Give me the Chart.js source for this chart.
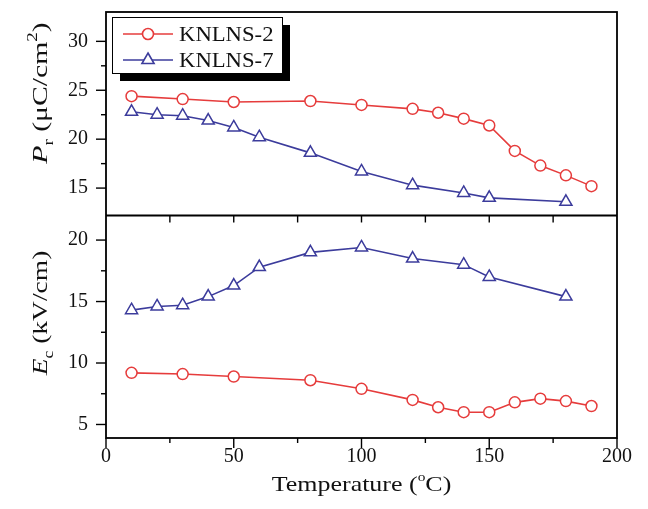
<!DOCTYPE html>
<html>
<head>
<meta charset="utf-8">
<script src="https://cdn.jsdelivr.net/npm/chart.js@4/dist/chart.umd.min.js"></script>
<style>
    html, body { margin: 0; padding: 0; background: #fff; }
    #wrap { width: 648px; height: 509px; }
</style>
</head>
<body>
<div id="wrap"><canvas id="chart"></canvas></div>
<script>
// Temperatures (°C) for each sample
const tempsA = [10, 30, 50, 80, 100, 120, 130, 140, 150, 160, 170, 180, 190]; // KNLNS-2
const tempsB = [10, 20, 30, 40, 50, 60, 80, 100, 120, 140, 150, 180];          // KNLNS-7

// Remanent polarization Pr (uC/cm2)
const prA = [24.4, 24.1, 23.8, 23.9, 23.5, 23.1, 22.7, 22.1, 21.4, 18.8, 17.3, 16.3, 15.2];
const prB = [22.8, 22.5, 22.4, 21.9, 21.2, 20.2, 18.6, 16.7, 15.3, 14.5, 14.0, 13.6];

// Coercive field Ec (kV/cm)
const ecA = [9.2, 9.1, 8.9, 8.6, 7.9, 7.0, 6.4, 6.0, 6.0, 6.8, 7.1, 6.9, 6.5];
const ecB = [14.3, 14.6, 14.7, 15.4, 16.3, 17.8, 19.0, 19.4, 18.5, 18.0, 17.0, 15.4];

const seriesNames = ['KNLNS-2', 'KNLNS-7'];
const xTicks = [0, 50, 100, 150, 200];
const prTicks = [15, 20, 25, 30];
const ecTicks = [5, 10, 15, 20];

const red = '#e63c3c';
const blue = '#3c3c9c';
const serif = '"Liberation Serif", "Times New Roman", serif';

function pts(xs, ys) {
    return xs.map((x, i) => ({ x: x, y: ys[i] }));
}

function makeSet(label, xs, ys, axis, color, style, r) {
    return {
        label: label,
        data: pts(xs, ys),
        yAxisID: axis,
        borderColor: color,
        backgroundColor: '#fff',
        borderWidth: 1.6,
        pointStyle: style,
        pointRadius: r,
        pointHoverRadius: r,
        pointBorderWidth: 1.5,
        pointBackgroundColor: '#fff',
        pointBorderColor: color,
        tension: 0
    };
}

function line(ctx, x1, y1, x2, y2) {
    ctx.beginPath();
    ctx.moveTo(x1, y1);
    ctx.lineTo(x2, y2);
    ctx.stroke();
}

// draws mixed-style text (italic, sub/superscript), centred on cx,cy
function drawRich(ctx, parts, cx, cy, angle, stretch) {
    ctx.save();
    let total = 0;
    parts.forEach(p => { ctx.font = p.font; p.w = ctx.measureText(p.t).width; total += p.w; });
    ctx.translate(cx, cy);
    ctx.rotate(angle);
    ctx.scale(stretch, 1);
    ctx.textBaseline = 'alphabetic';
    ctx.textAlign = 'left';
    ctx.fillStyle = '#111';
    let x = -total / 2;
    parts.forEach(p => {
        ctx.font = p.font;
        ctx.fillText(p.t, x, 7 + (p.dy || 0));
        x += p.w;
    });
    ctx.restore();
}

const big = '22px ' + serif;
const bigIt = 'italic 22px ' + serif;
const small = '14px ' + serif;

const decorate = {
    id: 'decorate',
    afterDatasetsDraw(chart) {
        const ctx = chart.ctx;
        const a = chart.chartArea;
        const sx = chart.scales.x, sp = chart.scales.yP, se = chart.scales.yE;
        const mid = sp.bottom;
        ctx.save();
        ctx.strokeStyle = '#000';
        ctx.lineWidth = 1.8;
        ctx.strokeRect(a.left, a.top, a.right - a.left, a.bottom - a.top);
        line(ctx, a.left, mid, a.right, mid);

        ctx.lineWidth = 1.4;
        [[sp, prTicks], [se, ecTicks]].forEach(([s, major]) => {
            major.forEach(v => {
                const y = s.getPixelForValue(v);
                line(ctx, a.left - 10, y, a.left, y);
                const m = v + 2.5;
                if (m < s.max - 1) {
                    const ym = s.getPixelForValue(m);
                    line(ctx, a.left - 5, ym, a.left, ym);
                }
            });
        });
        for (let v = 0; v <= 200; v += 25) {
            const x = sx.getPixelForValue(v);
            line(ctx, x, a.bottom, x, a.bottom + (v % 50 === 0 ? 10 : 5));
            if (v > 0 && v < 200) line(ctx, x, mid, x, mid + 7);
        }

        // axis titles
        drawRich(ctx, [
            { t: 'P', font: bigIt },
            { t: 'r', font: small, dy: 6 },
            { t: ' (\u03bcC/cm', font: big },
            { t: '2', font: small, dy: -10 },
            { t: ')', font: big }
        ], 40, 93, -Math.PI / 2, 1.35);
        drawRich(ctx, [
            { t: 'E', font: bigIt },
            { t: 'c', font: small, dy: 6 },
            { t: ' (kV/cm)', font: big }
        ], 40, 313, -Math.PI / 2, 1.25);
        drawRich(ctx, [
            { t: 'Temperature (', font: big },
            { t: 'o', font: '13px ' + serif, dy: -10 },
            { t: 'C)', font: big }
        ], (a.left + a.right) / 2, 484, 0, 1.18);

        // legend with offset shadow
        ctx.fillStyle = '#000';
        ctx.fillRect(120, 25, 170, 56);
        ctx.fillStyle = '#fff';
        ctx.fillRect(112, 17, 170, 56);
        ctx.lineWidth = 1;
        ctx.strokeRect(112.5, 17.5, 170, 56);
        [0, 1].forEach(i => {
            const ds = chart.data.datasets[i];
            const y = 34 + i * 26;
            ctx.strokeStyle = ds.borderColor;
            ctx.lineWidth = ds.borderWidth;
            line(ctx, 123, y, 173, y);
            ctx.fillStyle = ds.pointBackgroundColor;
            ctx.strokeStyle = ds.pointBorderColor;
            Chart.helpers.drawPoint(ctx, {
                pointStyle: ds.pointStyle, radius: ds.pointRadius, rotation: 0,
                borderWidth: ds.pointBorderWidth
            }, 148, y);
            ctx.fillStyle = '#111';
            ctx.font = '21px ' + serif;
            ctx.textBaseline = 'middle';
            ctx.save();
            ctx.translate(179, y + 1);
            ctx.scale(1.08, 1);
            ctx.fillText(seriesNames[i], 0, 0);
            ctx.restore();
        });
        ctx.restore();
    }
};

const tickFont = { family: serif, size: 20 };

function fitY(s) {
    s.width = 106;
    s.paddingTop = 0;
    s.paddingBottom = 0;
}

new Chart(document.getElementById('chart'), {
    type: 'line',
    data: {
        datasets: [
            makeSet(seriesNames[0], tempsA, prA, 'yP', red, 'circle', 5.5),
            makeSet(seriesNames[1], tempsB, prB, 'yP', blue, 'triangle', 7),
            makeSet(seriesNames[0], tempsA, ecA, 'yE', red, 'circle', 5.5),
            makeSet(seriesNames[1], tempsB, ecB, 'yE', blue, 'triangle', 7)
        ]
    },
    options: {
        responsive: true,
        maintainAspectRatio: false,
        animation: false,
        layout: { padding: { top: 12, right: 31, left: 0, bottom: 0 } },
        plugins: {
            legend: { display: false },
            tooltip: { enabled: false }
        },
        scales: {
            x: {
                type: 'linear',
                min: 0,
                max: 200,
                afterBuildTicks: s => { s.ticks = xTicks.map(v => ({ value: v })); },
                afterFit: s => { s.height = 71; },
                grid: { display: false, drawTicks: false },
                border: { display: false },
                ticks: { font: tickFont, color: '#111', padding: 7, autoSkip: false, maxRotation: 0 }
            },
            yE: {
                type: 'linear',
                position: 'left',
                stack: 'panels',
                stackWeight: 222,
                min: 3.9,
                max: 22,
                afterBuildTicks: s => { s.ticks = ecTicks.map(v => ({ value: v })); },
                afterFit: fitY,
                grid: { display: false, drawTicks: false },
                border: { display: false },
                ticks: { font: tickFont, color: '#111', padding: 18 }
            },
            yP: {
                type: 'linear',
                position: 'left',
                stack: 'panels',
                stackWeight: 203,
                min: 12.2,
                max: 33,
                afterBuildTicks: s => { s.ticks = prTicks.map(v => ({ value: v })); },
                afterFit: fitY,
                grid: { display: false, drawTicks: false },
                border: { display: false },
                ticks: { font: tickFont, color: '#111', padding: 18 }
            }
        }
    },
    plugins: [decorate]
});
</script>
</body>
</html>
